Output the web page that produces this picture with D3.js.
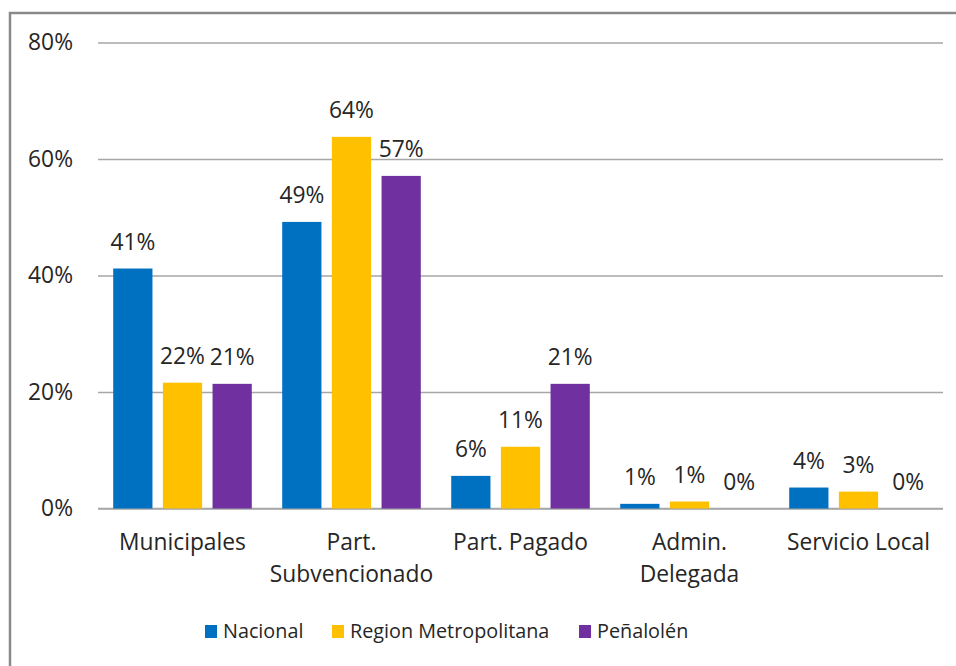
<!DOCTYPE html>
<html>
<head>
<meta charset="utf-8">
<script src="https://cdn.jsdelivr.net/npm/d3@7"></script>
<style>
  body { margin: 0; background: #fff; }
  svg text { font-family: "Open Sans", sans-serif; fill: #262626; }
</style>
</head>
<body>
<svg id="viz"></svg>
<script>
const categories = [["Municipales"], ["Part.", "Subvencionado"], ["Part. Pagado"], ["Admin.", "Delegada"], ["Servicio Local"]];
const seriesNames = ["Nacional", "Region Metropolitana", "Peñalolén"];
const nacional = [41.2, 49.2, 5.6, 0.8, 3.6];
const regionMetropolitana = [21.6, 63.8, 10.6, 1.2, 2.9];
const penalolen = [21.4, 57.1, 21.4, 0, 0];
const seriesColors = ["#0070C0", "#FFC000", "#7030A0"];
const yTicks = [0, 20, 40, 60, 80];

const app = {
    init() {
        const series = [nacional, regionMetropolitana, penalolen];
        const data = categories.map((c, i) => ({
            key: c.join(" "),
            lines: c,
            values: series.map((s, j) => ({ name: seriesNames[j], value: s[i] }))
        }));
        this.createGraph(data);
    },

    createGraph(data) {
        const width = 956;
        const height = 666;
        const left = 98, right = 943, top = 42.5, bottom = 508.5;
        const fs = "22.8px";

        this.svg = d3.select("#viz").attr("width", width).attr("height", height);

        // outer frame (left and top only visible)
        this.svg.append("path").attr("d", `M10,${height} L10,13 L${width},13`)
            .attr("fill", "none").attr("stroke", "#8a8a8a").attr("stroke-width", 2.5);

        const x0 = d3.scaleBand().domain(data.map(d => d.key)).range([left, right]).paddingInner(0.18).paddingOuter(0.09);
        const x1 = d3.scaleBand().domain(seriesNames).range([0, x0.bandwidth()]).paddingInner(0.21);
        const y = d3.scaleLinear().domain([0, 80]).range([bottom, top]);
        const color = d3.scaleOrdinal().domain(seriesNames).range(seriesColors);

        const yAxis = this.svg.append("g").attr("transform", `translate(${left}, 0)`)
            .call(d3.axisLeft(y).tickValues(yTicks).tickSize(-(right - left)).tickFormat(d => d + "%").tickPadding(25));
        yAxis.select(".domain").remove();
        yAxis.selectAll(".tick line").attr("stroke", "#a6a6a6").attr("stroke-width", 1.3);
        yAxis.selectAll(".tick text").attr("font-size", fs).attr("fill", "#262626").attr("font-family", "Open Sans");

        this.svg.append("line").attr("x1", left).attr("x2", right).attr("y1", y(0)).attr("y2", y(0))
            .attr("stroke", "#a6a6a6").attr("stroke-width", 1.5);

        const groups = this.svg.selectAll("g.grp").data(data).enter().append("g")
            .attr("class", "grp").attr("transform", d => `translate(${x0(d.key)},0)`);

        groups.selectAll("rect").data(d => d.values).enter().append("rect")
            .attr("x", d => x1(d.name)).attr("width", x1.bandwidth())
            .attr("y", d => y(d.value)).attr("height", d => y(0) - y(d.value))
            .attr("fill", d => color(d.name));

        groups.selectAll("text.lbl").data(d => d.values).enter().append("text")
            .attr("class", "lbl")
            .attr("x", d => x1(d.name) + x1.bandwidth() / 2).attr("y", d => y(d.value) - 19)
            .attr("text-anchor", "middle").attr("font-size", fs)
            .text(d => Math.round(d.value) + "%");

        groups.each(function (d) {
            const g = d3.select(this);
            d.lines.forEach((t, i) => {
                g.append("text").attr("x", x0.bandwidth() / 2).attr("y", 550 + i * 32)
                    .attr("text-anchor", "middle").attr("font-size", fs).text(t);
            });
        });

        // legend
        const legendX = [205, 332, 579];
        const legend = this.svg.append("g");
        seriesNames.forEach((s, i) => {
            legend.append("rect").attr("x", legendX[i]).attr("y", 625).attr("width", 12).attr("height", 13).attr("fill", color(s));
            legend.append("text").attr("x", legendX[i] + 18).attr("y", 638).attr("font-size", "19.8px").text(s);
        });
    }
}

window.addEventListener("DOMContentLoaded", () => app.init())
</script>
</body>
</html>
